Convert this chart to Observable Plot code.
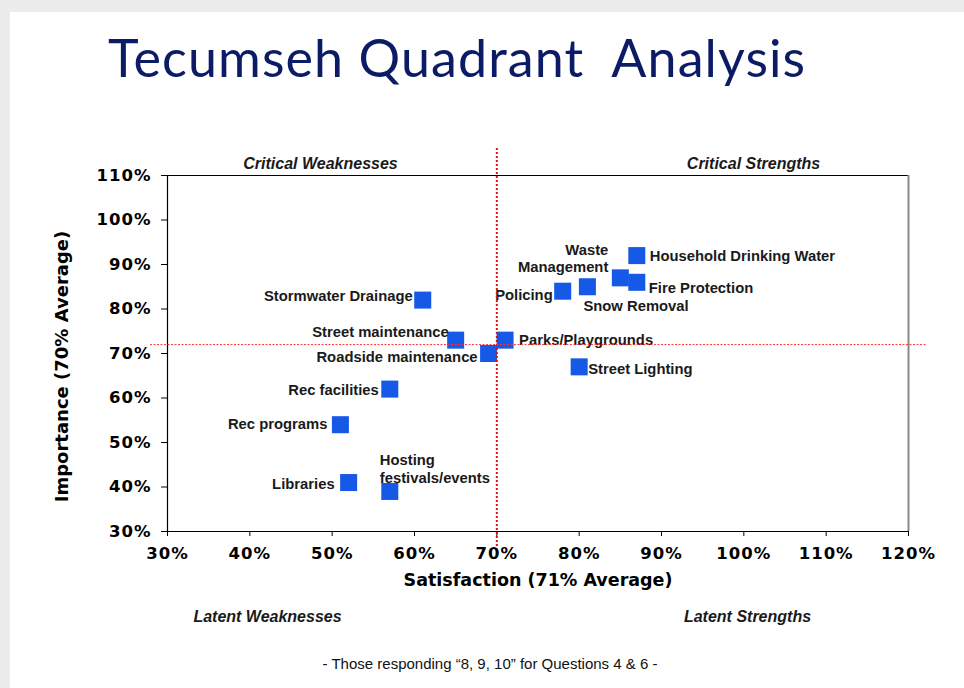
<!DOCTYPE html>
<html><head><meta charset="utf-8">
<script src="https://cdn.jsdelivr.net/npm/d3@7"></script>
<script src="https://cdn.jsdelivr.net/npm/@observablehq/plot@0.6"></script>
<style>
html,body{margin:0;padding:0;width:964px;height:688px;overflow:hidden;background:#ececec;}
#slide{position:absolute;left:10px;top:12px;width:954px;height:676px;background:#fff;}
#title{position:absolute;left:108px;top:31px;font-family:Lato,"Open Sans",sans-serif;color:#0c1b66;font-size:52px;letter-spacing:1.1px;line-height:1;white-space:pre;}
#chart{position:absolute;left:0;top:130px;}
#foot{position:absolute;left:0;width:980px;top:655px;text-align:center;font-family:"Liberation Sans",Arial,sans-serif;font-size:15px;color:#111;}
#chart svg text.tick-lbl{letter-spacing:1px;}
</style>
</head><body>
<div id="slide"></div>
<div id="title">Tecumseh Quadrant  Analysis</div>
<div id="chart"></div>
<div id="foot">- Those responding “8, 9, 10” for Questions 4 &amp; 6 -</div>
<script>
// ---- data ----
const services = ["Household Drinking Water","Waste\nManagement","Fire Protection","Snow Removal","Policing",
  "Stormwater Drainage","Street maintenance","Parks/Playgrounds","Roadside maintenance","Street Lighting",
  "Rec facilities","Rec programs","Libraries","Hosting\nfestivals/events"];
const satisfaction = [87, 85, 87, 81, 78, 61, 65, 71, 69, 80, 57, 51, 52, 57];
const importance   = [92, 87, 86, 85, 84, 82, 73, 73, 70, 67, 62, 54, 41, 39];
const xTicks = [30, 40, 50, 60, 70, 80, 90, 100, 110, 120];
const yTicks = [30, 40, 50, 60, 70, 80, 90, 100, 110];
const satDivider = 70;
const impDivider = 72;
const quadrantNames = ["Critical Weaknesses", "Critical Strengths", "Latent Weaknesses", "Latent Strengths"];
const xTitle = "Satisfaction (71% Average)";
const yTitle = "Importance (70% Average)";

// ---- label placement (style) ----
const labelPlace = {
  "Household Drinking Water": ["start", 13, 0],
  "Waste\nManagement": ["end", -12, -20],
  "Fire Protection": ["start", 12, 5],
  "Snow Removal": ["start", -4, 19],
  "Policing": ["end", -10, 3],
  "Stormwater Drainage": ["end", -10, -5],
  "Street maintenance": ["end", -7, -9],
  "Parks/Playgrounds": ["start", 14, -1],
  "Roadside maintenance": ["end", -11, 3],
  "Street Lighting": ["start", 9, 2],
  "Rec facilities": ["end", -11, 0],
  "Rec programs": ["end", -13, -1],
  "Libraries": ["end", -14, 1],
  "Hosting\nfestivals/events": ["start", -10, -23]
};

const rows = services.map((s, i) => ({name: s, sat: satisfaction[i], imp: importance[i]}));
const xDomain = [xTicks[0], xTicks[xTicks.length - 1]];
const yDomain = [yTicks[0], yTicks[yTicks.length - 1]];

const tickFont = {fontFamily: "DejaVu Sans", fontWeight: "bold", fontSize: 16.5};
const labelFont = {fontFamily: "Liberation Sans, Arial, sans-serif", fontWeight: "bold", fontSize: 14.8, fill: "#1a1a1a"};
const quadFont = {fontFamily: "Liberation Sans, Arial, sans-serif", fontWeight: "bold", fontStyle: "italic", fontSize: 16, fill: "#1a1a1a", textAnchor: "middle"};

const labelMarks = rows.map(r => {
  const [anchor, dx, dy] = labelPlace[r.name];
  return Plot.text([r], {x: "sat", y: "imp", text: "name", textAnchor: anchor, dx, dy, lineHeight: 1.18, ...labelFont});
});

const chart = Plot.plot({
  width: 964,
  height: 500,
  marginTop: 45,
  marginBottom: 99,
  marginLeft: 167,
  marginRight: 56,
  style: {background: "transparent", overflow: "visible"},
  x: {domain: xDomain, ticks: xTicks},
  y: {domain: yDomain, ticks: yTicks},
  marks: [
    Plot.axisX(xTicks, {tickSize: 5, tickPadding: 11, tickFormat: d => d + "%", label: null, fill: "#000", className: "xax", ...tickFont}),
    Plot.axisY(yTicks, {tickSize: 6, tickPadding: 10, tickFormat: d => d + "%", label: null, fill: "#000", className: "yax", ...tickFont}),
    Plot.ruleY([yDomain[0]], {stroke: "#000", strokeWidth: 1.2}),
    Plot.ruleY([yDomain[1]], {stroke: "#000", strokeWidth: 1.2}),
    Plot.ruleX([xDomain[0]], {stroke: "#000", strokeWidth: 1.2}),
    Plot.ruleX([xDomain[1]], {stroke: "#8a8a8a", strokeWidth: 2}),
    Plot.dot(rows, {x: "sat", y: "imp", symbol: "square", r: 9.6, fill: "#1659e6", stroke: null}),
    ...labelMarks,
    Plot.ruleX([satDivider], {stroke: "#e01010", strokeWidth: 2, strokeDasharray: "2,2", insetTop: -27, insetBottom: -16}),
    Plot.ruleY([impDivider], {stroke: "#ff3030", strokeWidth: 1, strokeDasharray: "2,1.5", insetLeft: -17, insetRight: -18}),
    Plot.text([quadrantNames[0]], {frameAnchor: "top-left", dx: 153, dy: -18, ...quadFont}),
    Plot.text([quadrantNames[1]], {frameAnchor: "top-right", dx: -155, dy: -18, ...quadFont}),
    Plot.text([quadrantNames[2]], {frameAnchor: "bottom-left", dx: 100, dy: 90, ...quadFont}),
    Plot.text([quadrantNames[3]], {frameAnchor: "bottom-right", dx: -161, dy: 90, ...quadFont}),
    Plot.text([xTitle], {frameAnchor: "bottom", textAnchor: "middle", dy: 54, fontFamily: "DejaVu Sans", fontWeight: "bold", fontSize: 17.5, fill: "#000"}),
    Plot.text([yTitle], {frameAnchor: "left", textAnchor: "middle", rotate: -90, dx: -105, dy: 13, fontFamily: "DejaVu Sans", fontWeight: "bold", fontSize: 18, fill: "#000"})
  ]
});
chart.querySelectorAll(".xax text, .yax text").forEach(t => t.classList.add("tick-lbl"));
document.getElementById("chart").appendChild(chart);
</script>
</body></html>
